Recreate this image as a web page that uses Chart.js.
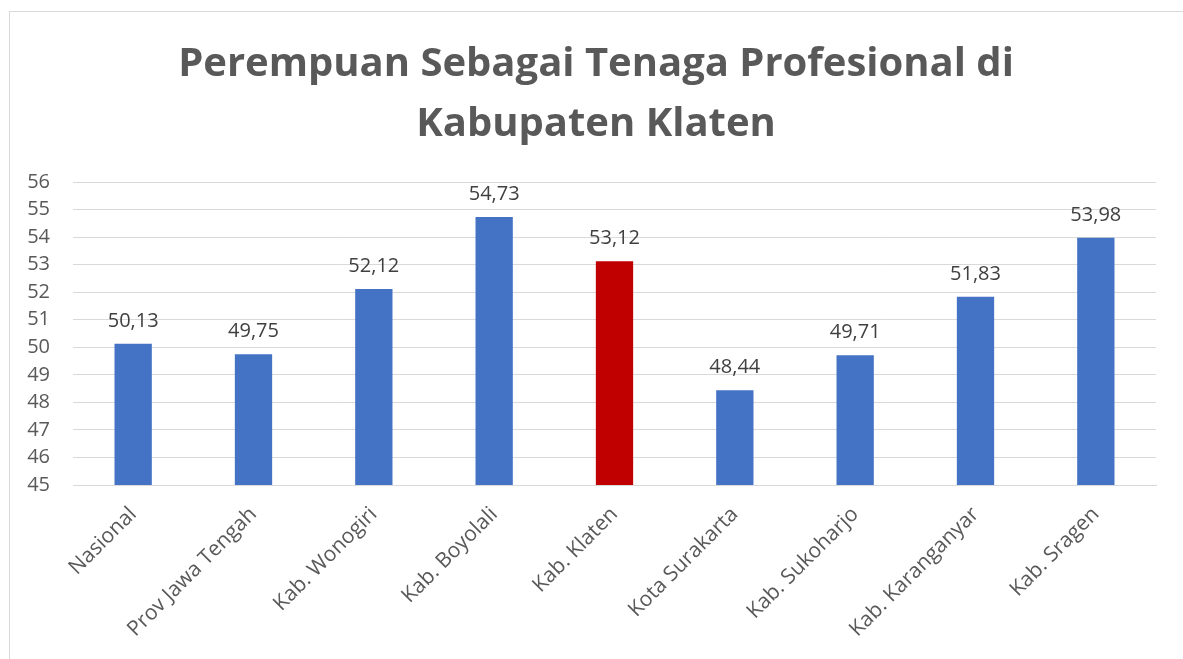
<!DOCTYPE html>
<html>
<head>
<meta charset="utf-8">
<script src="https://cdn.jsdelivr.net/npm/chart.js@4"></script>
<style>
  html, body { margin: 0; padding: 0; background: #fff; overflow: hidden; }
  #frame { position: absolute; left: 9px; top: 11px; width: 1300px; height: 800px; border: 1px solid #d9d9d9; }
  #chartContainer { position: absolute; left: 0; top: 0; }
</style>
</head>
<body>
<div id="frame"></div>
<canvas id="chartContainer" width="1183" height="659"></canvas>
<script>
// data dari grafik
var kategori = ['Nasional', 'Prov Jawa Tengah', 'Kab. Wonogiri', 'Kab. Boyolali', 'Kab. Klaten',
                'Kota Surakarta', 'Kab. Sukoharjo', 'Kab. Karanganyar', 'Kab. Sragen'];
var nilai = [50.13, 49.75, 52.12, 54.73, 53.12, 48.44, 49.71, 51.83, 53.98];
var sorot = 'Kab. Klaten';  // bar yang diberi warna merah
var judul = ['Perempuan Sebagai Tenaga Profesional di', 'Kabupaten Klaten'];

var warnaBar = kategori.map(function (k) { return k === sorot ? '#C00000' : '#4472C4'; });

// judul digambar sendiri supaya tengahnya sama dengan bingkai
var judulPlugin = {
    id: 'judulPlugin',
    afterDraw: function (chart) {
        var c = chart.ctx;
        c.save();
        c.font = 'bold 40px "Open Sans"';
        c.fillStyle = '#595959';
        c.textAlign = 'center';
        c.textBaseline = 'alphabetic';
        judul.forEach(function (t, i) {
            c.fillText(t, 596, 76 + i * 60);
        });
        c.restore();
    }
};

// label angka di atas bar (format koma)
var labelNilai = {
    id: 'labelNilai',
    afterDatasetsDraw: function (chart) {
        var c = chart.ctx;
        var meta = chart.getDatasetMeta(0);
        c.save();
        c.font = '20px "Open Sans"';
        c.fillStyle = '#404040';
        c.textAlign = 'center';
        c.textBaseline = 'alphabetic';
        meta.data.forEach(function (bar, i) {
            c.fillText(nilai[i].toFixed(2).replace('.', ','), bar.x, bar.y - 17);
        });
        c.restore();
    }
};

var ctx = document.getElementById('chartContainer').getContext('2d');
var chart = new Chart(ctx, {
    type: 'bar',
    data: {
        labels: kategori,
        datasets: [{
            data: nilai,
            backgroundColor: warnaBar,
            borderWidth: 0,
            categoryPercentage: 1,
            barPercentage: 0.31
        }]
    },
    options: {
        responsive: false,
        animation: false,
        devicePixelRatio: 1,
        layout: { padding: { left: 0, right: 27, top: 182, bottom: 0 } },
        plugins: {
            legend: { display: false },
            tooltip: { enabled: false },
            title: { display: false }
        },
        scales: {
            y: {
                min: 45,
                max: 56,
                ticks: {
                    stepSize: 1,
                    color: '#595959',
                    padding: 23,
                    font: { family: '"Open Sans"', size: 20 }
                },
                grid: { color: '#d9d9d9', drawTicks: false },
                border: { display: false },
                afterFit: function (s) { s.width = 73; }
            },
            x: {
                ticks: {
                    color: '#595959',
                    minRotation: 45,
                    maxRotation: 45,
                    padding: 17,
                    font: { family: '"Open Sans"', size: 21 }
                },
                grid: { display: false, drawTicks: false },
                border: { display: true, color: '#d9d9d9' },
                afterFit: function (s) { s.height = 174; }
            }
        }
    },
    plugins: [labelNilai, judulPlugin]
});
</script>
</body>
</html>
